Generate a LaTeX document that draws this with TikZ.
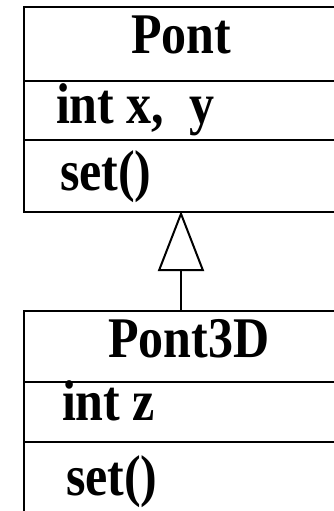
\documentclass[tikz,border=0pt]{standalone}
\usepackage{fontspec}
\usepackage{graphicx}
\setmainfont{Liberation Serif}
\usetikzlibrary{arrows.meta}

\newcommand{\tall}[1]{\scalebox{1}[1.15]{#1}}

\begin{document}
\begin{tikzpicture}[x=1pt,y=-1pt,line width=2pt]
	\useasboundingbox (0,0) rectangle (333,511);
	\tikzset{
		classbox/.style={draw,rectangle,anchor=north,minimum width=314pt,inner sep=0pt},
		member/.style={anchor=base west,inner sep=0pt,font=\bfseries\fontsize{50}{60}\selectfont},
		title/.style={member,anchor=base},
		inherit/.style={-{Triangle[open,length=60pt,width=46pt]},shorten >=-2pt}
	}
	% classes
	\node[classbox,minimum height=205pt] at (181,6) (pont){};
	\node[classbox,minimum height=230pt] at (181,310) (pont3d){};
	\draw (24,81) -- (338,81);
	\draw (24,140) -- (338,140);
	\draw (24,382) -- (338,382);
	\draw (24,442) -- (338,442);

	% texts
	\node[title] at (181,53) (pontname){\tall{Pont}};
	\node[member] at (55,123) (pontattr){\tall{int x,\ \ y}};
	\node[member] at (59,190) (pontop){\tall{set()}};
	\node[title] at (189,357) (pont3dname){\tall{Pont3D}};
	\node[member] at (61,420) (pont3dattr){\tall{int z}};
	\node[member] at (65,495) (pont3dop){\tall{set()}};

	\draw[inherit] (pont3d.north) -- (pont.south);
\end{tikzpicture}
\end{document}
